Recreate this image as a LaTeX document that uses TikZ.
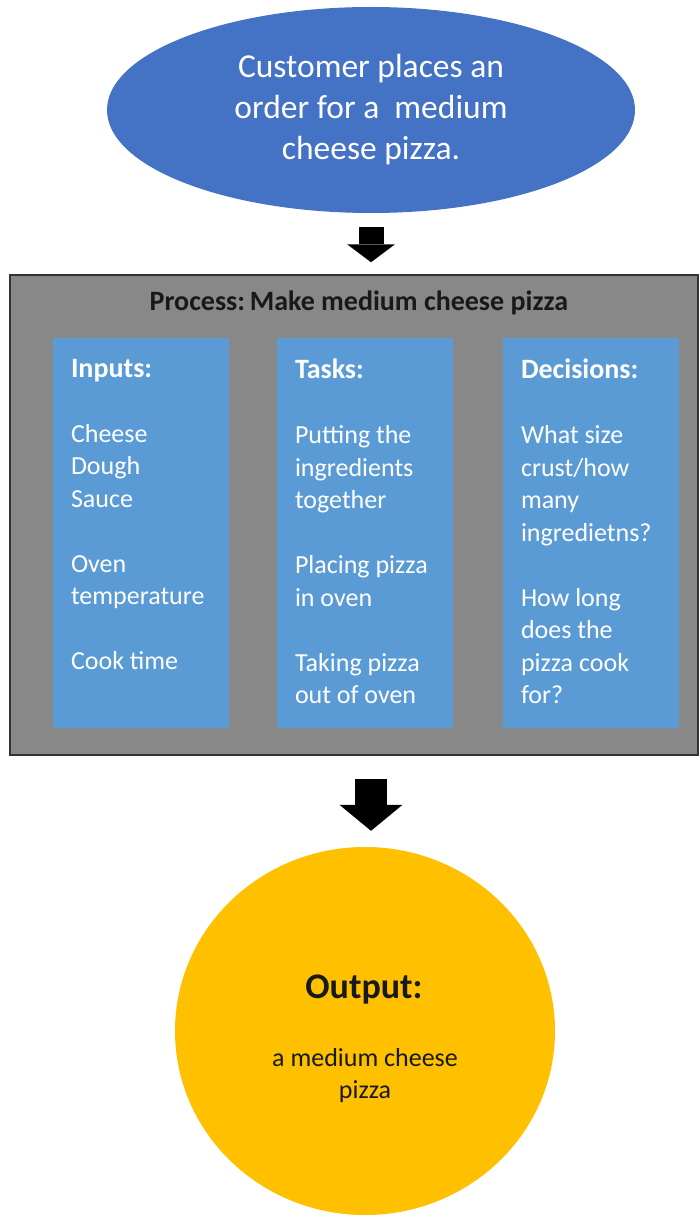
\documentclass[tikz,border=0pt]{standalone}
\usepackage{fontspec}
\setmainfont{Carlito}
\usepackage{tikz}
\usetikzlibrary{calc}
\usetikzlibrary{shapes}
\usetikzlibrary{arrows.meta}
\definecolor{ordblue}{RGB}{68,114,196}
\definecolor{colblue}{RGB}{91,155,213}
\definecolor{procgray}{RGB}{136,136,136}
\definecolor{procline}{RGB}{50,50,50}
\definecolor{outgold}{RGB}{255,192,0}
\tikzset{
  orderell/.style={ellipse, fill=ordblue, minimum width=528pt, minimum height=206pt, inner sep=0pt, text=white, align=center, font=\fontsize{33.5}{41}\selectfont},
  procbox/.style={rectangle, fill=procgray, draw=procline, line width=1.5pt, minimum width=688pt, minimum height=480pt, inner sep=0pt},
  proctitle/.style={inner sep=0pt, text=black!90, font=\bfseries\fontsize{28}{34}\selectfont},
  colbox/.style={rectangle, fill=colblue, minimum width=176pt, minimum height=390pt, inner sep=0pt},
  coltext/.style={anchor=north west, inner sep=0pt, align=left, text=white, font=\fontsize{26}{32.5}\selectfont},
  outdisc/.style={ellipse, fill=outgold, minimum width=380pt, minimum height=368pt, inner sep=0pt},
  outhead/.style={inner sep=0pt, text=black!90, font=\bfseries\fontsize{36}{43}\selectfont},
  outbody/.style={inner sep=0pt, align=center, text=black!90, font=\fontsize{26}{32}\selectfont},
  arrowone/.style={line width=25pt, -{Triangle[width=48pt,length=18pt,line width=0pt]}},
  arrowtwo/.style={line width=32pt, -{Triangle[width=63pt,length=26pt,line width=0pt]}}
}
\newcommand{\colbox}[3]{\node[colbox] (#1) at (#2,#3) {};}
\newcommand{\coltext}[3]{\node[coltext] (#2) at ($(#1.north west)+(18,21)$) {#3};}
\newcommand{\colhead}[1]{{\bfseries\fontsize{28}{32.5}\selectfont #1}}

\begin{document}
\begin{tikzpicture}[x=1pt,y=-1pt]
        \useasboundingbox (0,0) rectangle (699,1217);

        % order
        \node[orderell] (order) at (371,110) {Customer places an\\order for a\ \ medium\\cheese pizza.};

        % process
        \node[procbox] (procbox) at (354,515) {};
        \node[proctitle] (proctitle) at (359,303) {Process:\,Make medium cheese pizza};

        % columns
        \colbox{inbox}{141}{533}
        \colbox{taskbox}{365}{533}
        \colbox{decbox}{591}{533}

        \coltext{inbox}{intext}{\colhead{Inputs:}\\[32.5pt]Cheese\\Dough\\Sauce\\[32.5pt]Oven\\temperature\\[32.5pt]Cook time}
        \coltext{taskbox}{tasktext}{\colhead{Tasks:}\\[32.5pt]Putting the\\ingredients\\together\\[32.5pt]Placing pizza\\in oven\\[32.5pt]Taking pizza\\out of oven}
        \coltext{decbox}{dectext}{\colhead{Decisions:}\\[32.5pt]What size\\crust/how\\many\\ingredietns?\\[32.5pt]How long\\does the\\pizza cook\\for?}

        % output
        \node[outdisc] (outdisc) at (365,1031) {};
        \node[outhead] (outhead) at (364,990) {Output:};
        \node[outbody] (outbody) at (365,1076) {a medium cheese\\pizza};

        % arrows
        \draw[arrowone] ($(order.south)+(0,14)$) -- ($(order.south |- procbox.north)+(0,-12)$);
        \draw[arrowtwo] ($(order.south |- procbox.south)+(0,23)$) -- ($(order.south |- outdisc.north)+(0,-16)$);
\end{tikzpicture}
\end{document}
